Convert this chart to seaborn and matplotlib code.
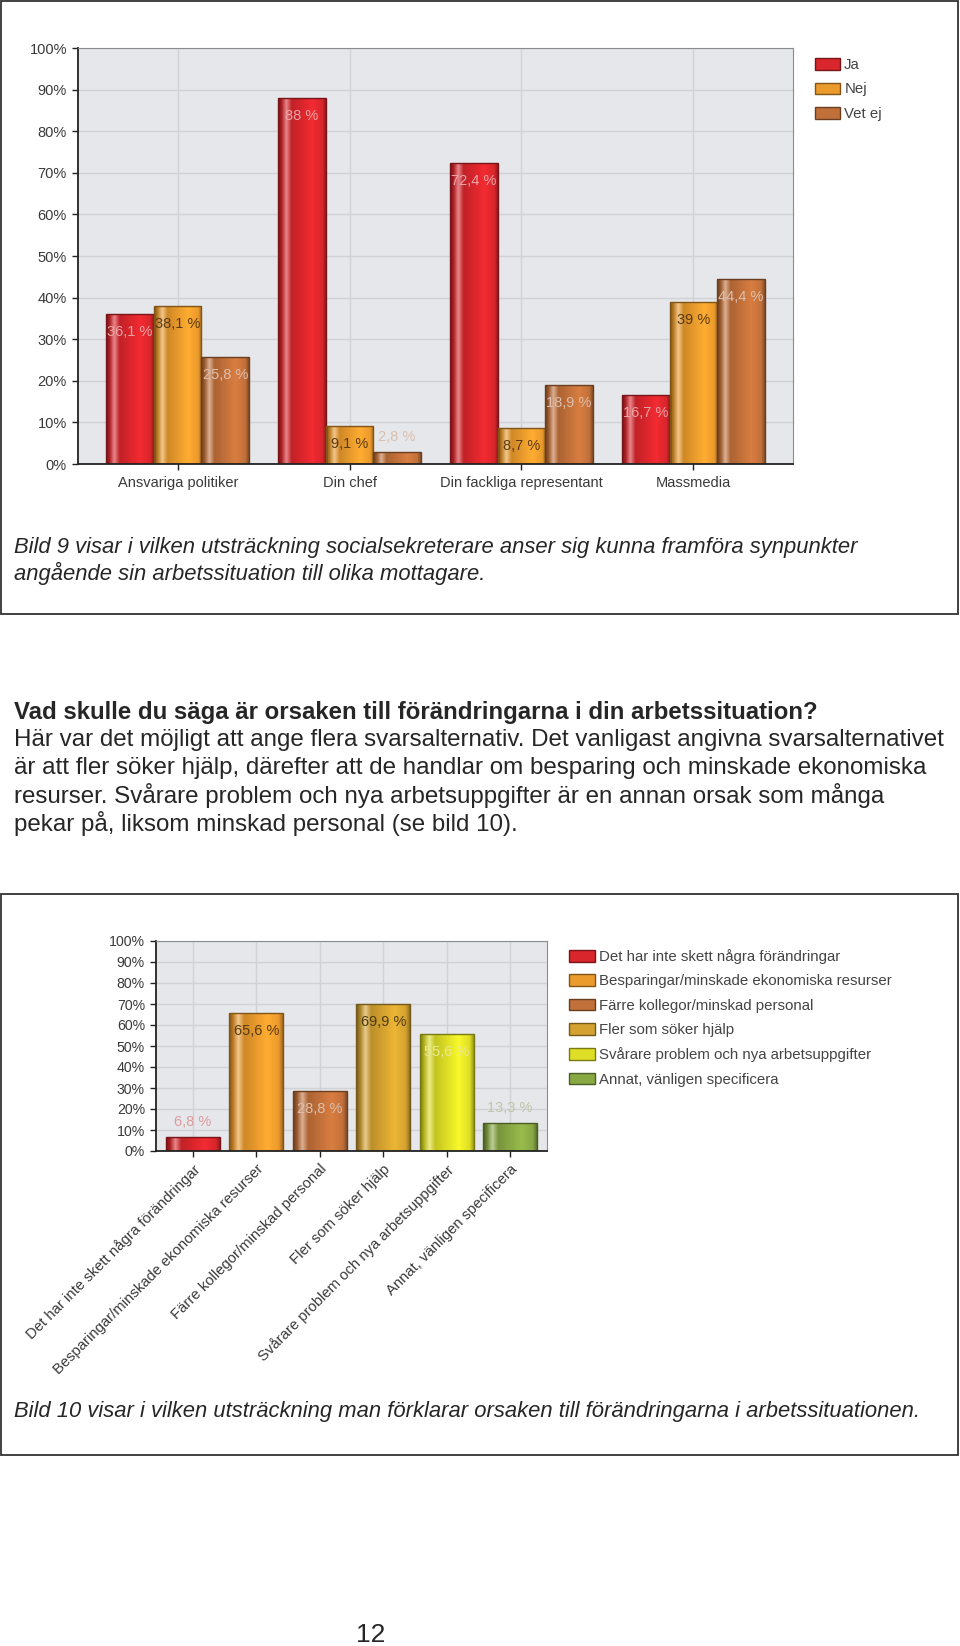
import numpy as np
import pandas as pd
import matplotlib.pyplot as plt
import matplotlib.colors as mcolors
from matplotlib.patches import Patch, Rectangle
import seaborn as sns

# Bild 9: vem man kan framföra synpunkter till
mottagare = ["Ansvariga politiker", "Din chef", "Din fackliga representant", "Massmedia"]
svar = ["Ja", "Nej", "Vet ej"]
ja = [36.1, 88, 72.4, 16.7]
nej = [38.1, 9.1, 8.7, 39]
vet_ej = [25.8, 2.8, 18.9, 44.4]

# Bild 10: orsaker till förändringarna
orsaker = ["Det har inte skett några förändringar",
           "Besparingar/minskade ekonomiska resurser",
           "Färre kollegor/minskad personal",
           "Fler som söker hjälp",
           "Svårare problem och nya arbetsuppgifter",
           "Annat, vänligen specificera"]
andel = [6.8, 65.6, 28.8, 69.9, 55.6, 13.3]

y_ticks = [0, 10, 20, 30, 40, 50, 60, 70, 80, 90, 100]
y_tick_labels = ["0%", "10%", "20%", "30%", "40%", "50%", "60%", "70%", "80%", "90%", "100%"]

svar_colors = {"Ja": "#d9262c", "Nej": "#eb9a2c", "Vet ej": "#c2703a"}
svar_text = {"Ja": "#eaa6a6", "Nej": "#5a3a12", "Vet ej": "#dcbfae"}
orsak_colors = ["#d9262c", "#eb9a2c", "#c2703a", "#d4a230", "#dede26", "#88a844"]
orsak_text = ["#e09a9e", "#5a3a12", "#dcbfae", "#4d3c12", "#e8e890", "#bcc6a8"]

sns.set_style("white")
plt.rcParams["font.family"] = ["Liberation Sans", "DejaVu Sans"]

W, H = 960, 1646
fig = plt.figure(figsize=(W / 100, H / 100), dpi=100)


def fx(px):
    return px / W


def fy(px):
    return 1 - px / H


def shade(ax, bar, base):
    r = np.array(mcolors.to_rgb(base))
    stops = [(0.0, r * 0.55), (0.07, r * 0.8), (0.17, r + (1 - r) * 0.45),
             (0.28, r * 0.88), (0.72, np.clip(r * 1.12, 0, 1)), (0.93, r), (1.0, r * 0.7)]
    xs = np.linspace(0, 1, 64)
    grad = np.zeros((1, 64, 3))
    for c in range(3):
        grad[0, :, c] = np.interp(xs, [s[0] for s in stops], [s[1][c] for s in stops])
    x0, w, h = bar.get_x(), bar.get_width(), bar.get_height()
    im = ax.imshow(grad, extent=[x0, x0 + w, 0, h], aspect="auto",
                   interpolation="bilinear", zorder=0.9)
    im.set_clip_path(bar)
    bar.set_facecolor("none")
    bar.set_edgecolor(tuple(r * 0.55))
    bar.set_linewidth(1)


def label_bars(ax, bars, values, colors):
    ppu = ax.bbox.height / 100
    for bar, v, c in zip(bars, values, colors):
        txt = f"{v:g}".replace(".", ",") + " %"
        off = -18 if v * ppu > 35 else 15
        ax.annotate(txt, (bar.get_x() + bar.get_width() / 2, v), xytext=(0, off),
                    textcoords="offset pixels", ha="center", va="center",
                    color=c, fontsize=10.5, zorder=5)


def style_axes(ax, n):
    ax.set_facecolor("#e5e7ea")
    ax.set_xlim(-0.58, n - 1 + 0.58)
    ax.set_ylim(0, 100)
    ax.set_yticks(y_ticks)
    ax.set_yticklabels(y_tick_labels)
    ax.grid(True, color="#d0d2d6", lw=1)
    ax.set_axisbelow(True)
    for s in ["left", "bottom"]:
        ax.spines[s].set_color("#222222")
        ax.spines[s].set_linewidth(1.3)
    for s in ["top", "right"]:
        ax.spines[s].set_color("#8a8c90")
        ax.spines[s].set_linewidth(0.8)
    ax.set_xlabel("")
    ax.set_ylabel("")
    ax.tick_params(axis="both", which="both", direction="out", length=4, width=1,
                   color="#222222", labelcolor="#3a3a3a", labelsize=10.5, pad=4,
                   bottom=True, left=True)


# ---- Bild 9 ----
df1 = pd.DataFrame({
    "mottagare": mottagare * 3,
    "svar": [s for s in svar for _ in mottagare],
    "andel": ja + nej + vet_ej,
})
ax1 = fig.add_axes([fx(78), fy(464), fx(793 - 78), (464 - 48) / H])
sns.barplot(data=df1, x="mottagare", y="andel", hue="svar", hue_order=svar,
            palette=svar_colors, width=0.83, saturation=1, legend=False, ax=ax1)
style_axes(ax1, len(mottagare))
for name, cont in zip(svar, ax1.containers):
    vals = df1[df1.svar == name].andel.tolist()
    for bar in cont:
        shade(ax1, bar, svar_colors[name])
    label_bars(ax1, cont, vals, [svar_text[name]] * len(vals))
ax1.set_xlim(-0.58, len(mottagare) - 1 + 0.58)
ax1.set_ylim(0, 100)
ax1.tick_params(axis="x", pad=4.5)

h1 = [Patch(facecolor=svar_colors[s], edgecolor=np.array(mcolors.to_rgb(svar_colors[s])) * 0.55,
            label=s) for s in svar]
leg1 = fig.legend(handles=h1, loc="upper left", bbox_to_anchor=(fx(815), fy(58)), frameon=False,
                  fontsize=10.8, borderpad=0, handlelength=1.65, handleheight=0.8,
                  handletextpad=0.3, labelspacing=0.7, borderaxespad=0)
for t in leg1.get_texts():
    t.set_color("#444444")

# ---- Bild 10 ----
df2 = pd.DataFrame({"orsak": orsaker, "andel": andel})
ax2 = fig.add_axes([fx(156), fy(1151), fx(547 - 156), (1151 - 941) / H])
sns.barplot(data=df2, x="orsak", y="andel", hue="orsak", palette=orsak_colors,
            width=0.85, saturation=1, legend=False, ax=ax2)
style_axes(ax2, len(orsaker))
bars2 = [c[0] for c in ax2.containers]
for bar, col in zip(bars2, orsak_colors):
    shade(ax2, bar, col)
label_bars(ax2, bars2, andel, orsak_text)
ax2.set_xlim(-0.58, len(orsaker) - 1 + 0.58)
ax2.set_ylim(0, 100)
ax2.tick_params(axis="y", labelsize=10.2)
plt.setp(ax2.get_xticklabels(), rotation=45, ha="right", va="top",
         rotation_mode="anchor", fontsize=10.7)

h2 = [Patch(facecolor=c, edgecolor=np.array(mcolors.to_rgb(c)) * 0.55, label=o)
      for o, c in zip(orsaker, orsak_colors)]
leg2 = fig.legend(handles=h2, loc="upper left", bbox_to_anchor=(fx(569), fy(949)), frameon=False,
                  fontsize=10.8, borderpad=0, handlelength=1.7, handleheight=0.8,
                  handletextpad=0.3, labelspacing=0.69, borderaxespad=0)
for t in leg2.get_texts():
    t.set_color("#444444")

# ---- ramar och text ----
for top, bottom in [(1, 614), (894, 1455)]:
    fig.patches.append(Rectangle((fx(1), fy(bottom)), fx(957), (bottom - top) / H,
                                 transform=fig.transFigure, fill=False,
                                 edgecolor="#333333", lw=1.3))

caption1 = ["Bild 9 visar i vilken utsträckning socialsekreterare anser sig kunna framföra synpunkter",
            "angående sin arbetssituation till olika mottagare."]
for line, y in zip(caption1, [547, 573]):
    fig.text(fx(14), fy(y), line, style="italic", fontsize=15.8, va="center")

fig.text(fx(14), fy(713), "Vad skulle du säga är orsaken till förändringarna i din arbetssituation?",
         fontweight="bold", fontsize=17.3, va="center")
body = ["Här var det möjligt att ange flera svarsalternativ. Det vanligast angivna svarsalternativet",
        "är att fler söker hjälp, därefter att de handlar om besparing och minskade ekonomiska",
        "resurser. Svårare problem och nya arbetsuppgifter är en annan orsak som många",
        "pekar på, liksom minskad personal (se bild 10)."]
for line, y in zip(body, [740, 768, 795, 823]):
    fig.text(fx(14), fy(y), line, fontsize=17.4, va="center")

fig.text(fx(14), fy(1412),
         "Bild 10 visar i vilken utsträckning man förklarar orsaken till förändringarna i arbetssituationen.",
         style="italic", fontsize=15.8, va="center")
fig.text(fx(371), fy(1635), "12", fontsize=19, ha="center", va="center")

fig.savefig("out.png", dpi=100)
